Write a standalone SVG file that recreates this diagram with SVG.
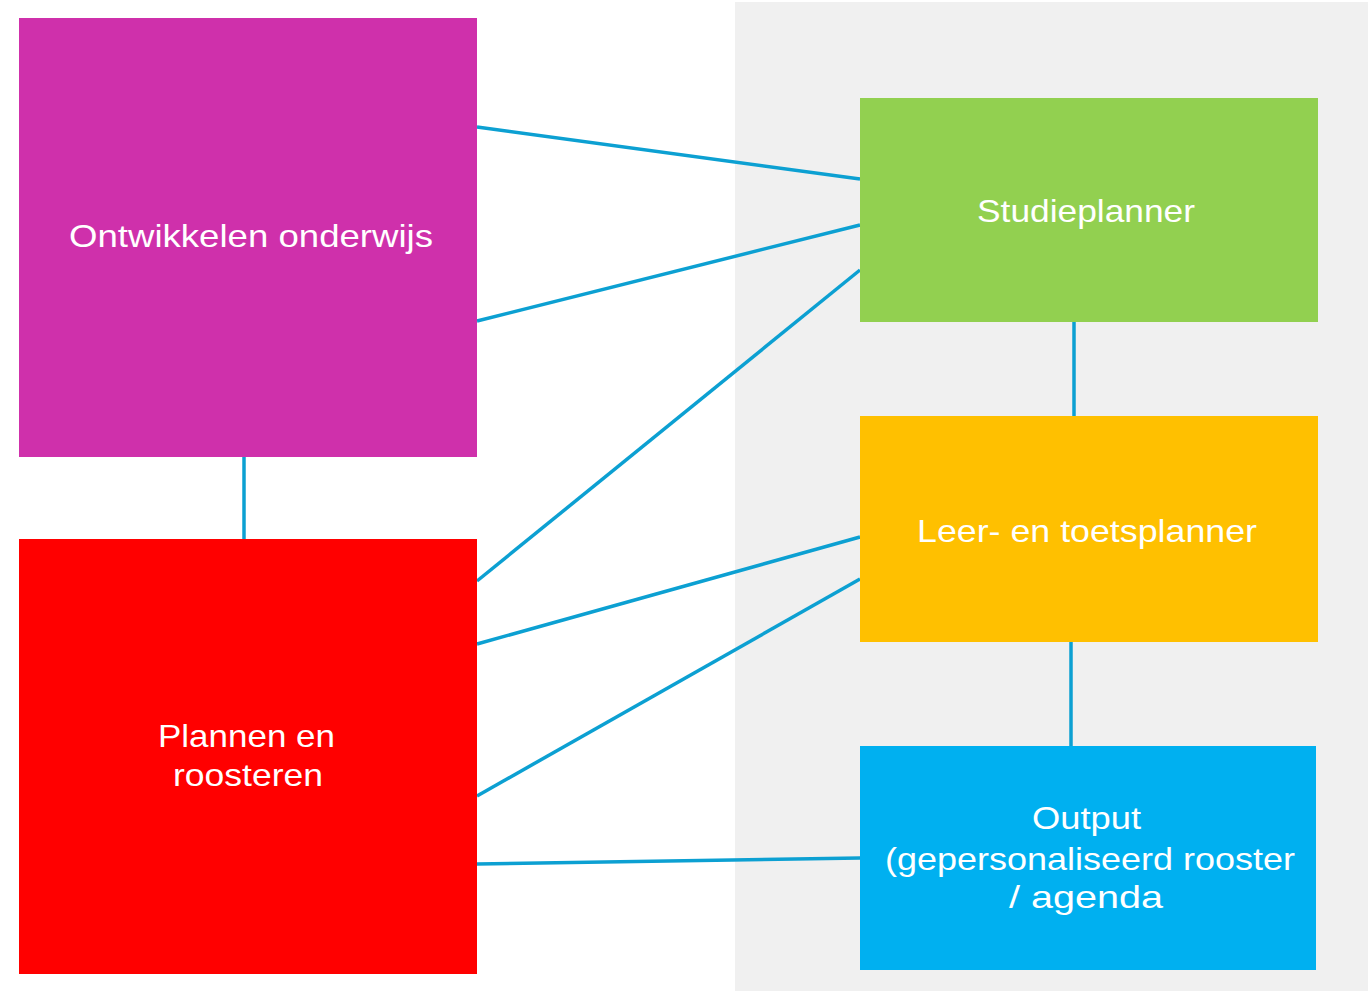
<svg xmlns="http://www.w3.org/2000/svg" width="1368" height="991" viewBox="0 0 1368 991">
<style>
.lbl{font-family:"Liberation Sans",Arial,sans-serif;font-size:32px;fill:#ffffff;text-anchor:middle}
.c{stroke:#0ca0d2;stroke-width:3.5;fill:none}
</style>
<rect x="0" y="0" width="1368" height="991" fill="#ffffff"/>
<rect id="panel" x="735" y="2" width="633" height="989" fill="#f0f0f0"/>
<g id="connectors">
<line class="c" x1="477" y1="127" x2="860" y2="179"/>
<line class="c" x1="477" y1="321" x2="860" y2="225"/>
<line class="c" x1="477" y1="581" x2="860" y2="270"/>
<line class="c" x1="477" y1="644" x2="860" y2="537"/>
<line class="c" x1="477" y1="796" x2="860" y2="579"/>
<line class="c" x1="477" y1="864" x2="860" y2="858"/>
<line class="c" x1="244" y1="457" x2="244" y2="539"/>
<line class="c" x1="1074" y1="322" x2="1074" y2="416"/>
<line class="c" x1="1071" y1="642" x2="1071" y2="746"/>
</g>
<g id="ontwikkelen">
<rect x="19" y="18" width="458" height="439" fill="#cf30ab"/>
<text class="lbl" x="251" y="247" textLength="364" lengthAdjust="spacingAndGlyphs">Ontwikkelen onderwijs</text>
</g>
<g id="plannen">
<rect x="19" y="539" width="458" height="435" fill="#ff0000"/>
<text class="lbl" x="246.5" y="747" textLength="177" lengthAdjust="spacingAndGlyphs">Plannen en</text>
<text class="lbl" x="248" y="786" textLength="150" lengthAdjust="spacingAndGlyphs">roosteren</text>
</g>
<g id="studieplanner">
<rect x="860" y="98" width="458" height="224" fill="#92d050"/>
<text class="lbl" x="1086" y="222" textLength="218" lengthAdjust="spacingAndGlyphs">Studieplanner</text>
</g>
<g id="leerplanner">
<rect x="860" y="416" width="458" height="226" fill="#ffc000"/>
<text class="lbl" x="1087" y="542" textLength="340" lengthAdjust="spacingAndGlyphs">Leer- en toetsplanner</text>
</g>
<g id="output">
<rect x="860" y="746" width="456" height="224" fill="#00b0f0"/>
<text class="lbl" x="1086.5" y="829" textLength="109" lengthAdjust="spacingAndGlyphs">Output</text>
<text class="lbl" x="1090" y="870" textLength="410" lengthAdjust="spacingAndGlyphs">(gepersonaliseerd rooster</text>
<text class="lbl" x="1086" y="908" textLength="154" lengthAdjust="spacingAndGlyphs">/ agenda</text>
</g>
</svg>
